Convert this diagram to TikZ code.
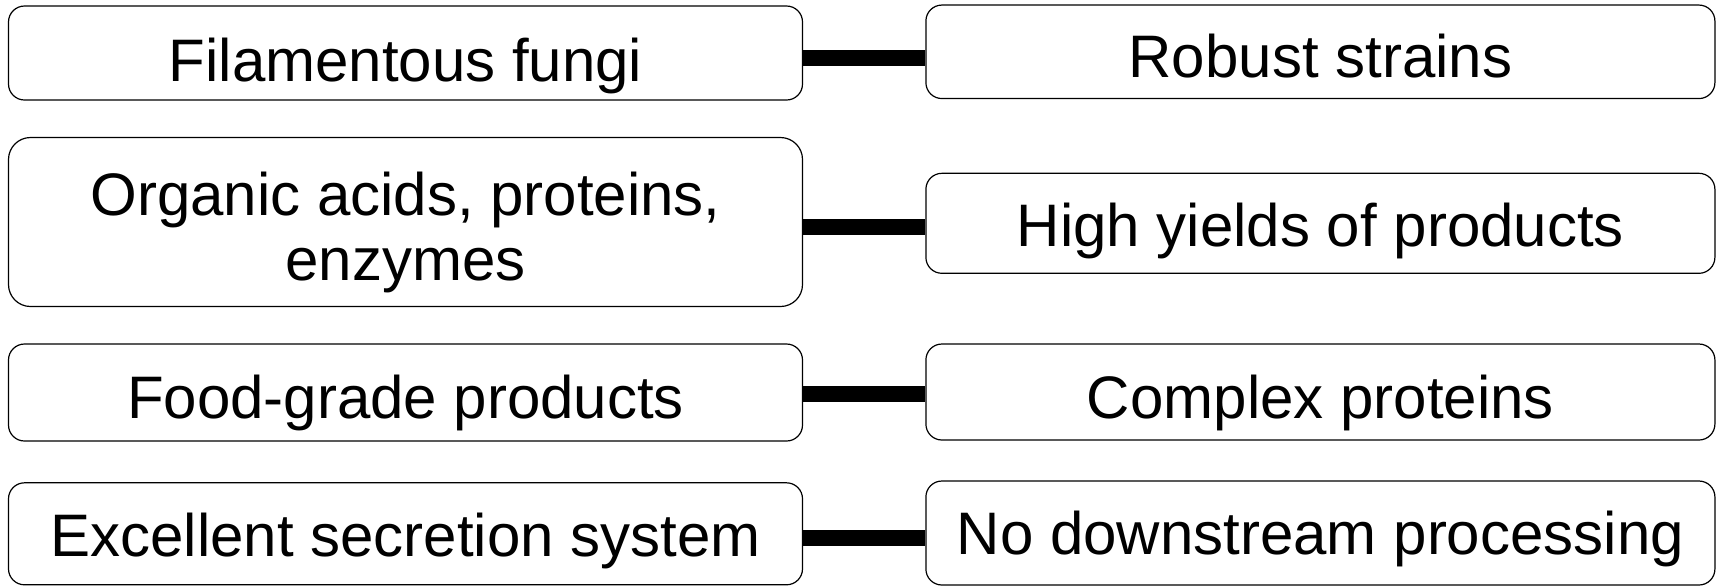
\documentclass[tikz,border=0pt]{standalone}
\usepackage{fontspec}
\setmainfont{Liberation Sans}

\tikzset{
	caja/.style={draw, line width=0.6pt, rounded corners=8pt, inner sep=0pt,
		align=center, text height=26pt, text depth=0pt,
		font=\fontsize{30}{32.5}\selectfont},
	cajaizq/.style={caja, minimum width=397pt},
	cajader/.style={caja, minimum width=394.5pt},
	enlace/.style={line width=8pt}
}

\begin{document}
\begin{tikzpicture}[x=1pt,y=1pt]
		
		% Marco del dibujo completo
		\useasboundingbox (0,0) rectangle (858,-293);
		
		% Columna izquierda (propiedades de los hongos)
		\node[cajaizq, minimum height=47pt, text height=28pt] (fungi) at (202.75,-26.5) {Filamentous fungi};
		\node[cajaizq, minimum height=84.5pt, rounded corners=11pt, text height=58pt] (acids) at (202.75,-111) {Organic acids, proteins,\\enzymes};
		\node[cajaizq, minimum height=48.5pt] (food) at (202.75,-196.25) {Food-grade products};
		\node[cajaizq, minimum height=51pt, text height=23pt] (secretion) at (202.75,-266.9) {Excellent secretion system};
		
		% Columna derecha (ventajas)
		\node[cajader, minimum height=46.75pt] (robust) at (660.2,-25.9) {Robust strains};
		\node[cajader, minimum height=50pt, text height=23.5pt] (yields) at (660.2,-111.65) {High yields of products};
		\node[cajader, minimum height=48pt] (complex) at (660.2,-196) {Complex proteins};
		\node[cajader, minimum height=52pt, text height=21pt] (downstream) at (660.2,-266.5) {No downstream processing};
		
		% Barras que unen cada pareja
		\foreach \a/\b/\d in {fungi/robust/2.5, acids/yields/2.6, food/complex/0.8, secretion/downstream/2.1}
			\draw[enlace] ([yshift=-\d pt]\a.east) -- ([yshift=-\d pt]\a.east -| \b.west);
		
	\end{tikzpicture}
\end{document}
